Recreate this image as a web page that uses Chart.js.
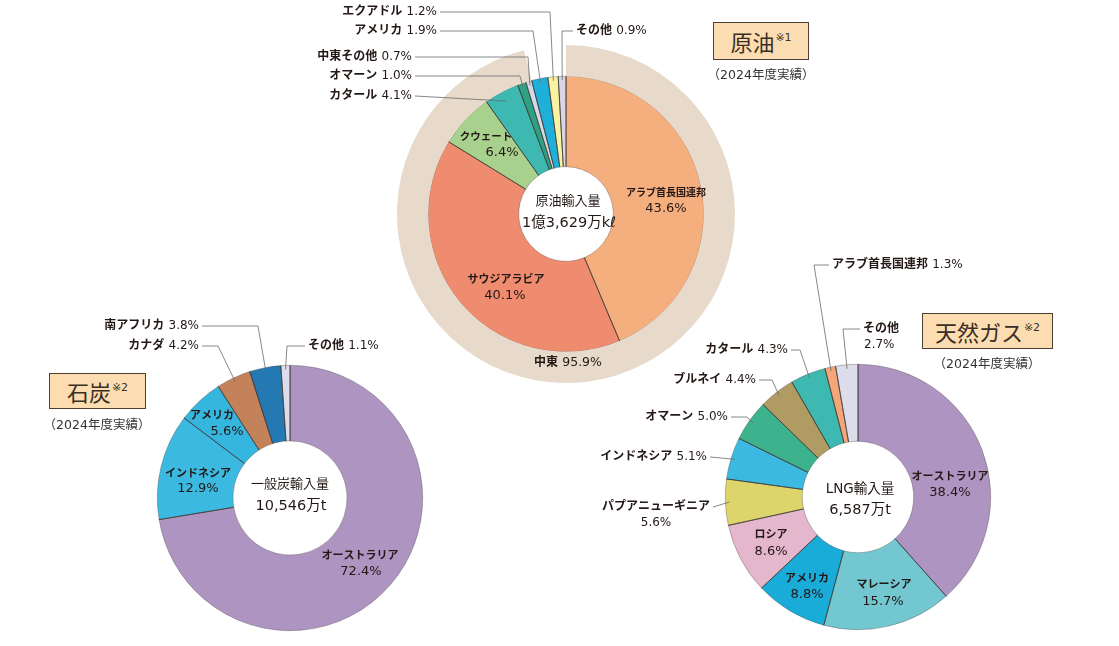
<!DOCTYPE html>
<html lang="ja">
<head>
<meta charset="utf-8">
<script src="https://cdn.jsdelivr.net/npm/chart.js@4.4.1/dist/chart.umd.min.js"></script>
<style>
  html, body { margin: 0; padding: 0; background: #fff; }
  body { width: 1119px; height: 646px; position: relative; overflow: hidden; font-family: "DejaVu Sans", "Noto Sans CJK JP", sans-serif; }
  canvas { position: absolute; }
  .tbox { position: absolute; box-sizing: border-box; background: #FCDDB1; border: 1.5px solid #4d3f33;
          font-family: "Noto Sans CJK JP", sans-serif; font-size: 22px; color: #3b2f25;
          display: flex; align-items: center; justify-content: center; line-height: 1; }
  .tbox sup { font-family: "DejaVu Sans", "Noto Sans CJK JP", sans-serif; font-size: 11px; position: relative; top: -4px; margin-left: 1px; }
  .yr { position: absolute; font-size: 12.5px; color: #333; transform: translate(-50%, -50%); white-space: nowrap; }
</style>
</head>
<body>
<canvas id="oilChart" width="540" height="400" style="left:300px;top:0px"></canvas>
<canvas id="coalChart" width="440" height="346" style="left:0px;top:300px"></canvas>
<canvas id="lngChart" width="539" height="406" style="left:580px;top:240px"></canvas>

<div class="tbox" style="left:713px;top:22px;width:96px;height:38px">原油<sup>※1</sup></div>
<div class="yr" style="left:761px;top:73px">（2024年度実績）</div>
<div class="tbox" style="left:49px;top:373px;width:97px;height:36px">石炭<sup>※2</sup></div>
<div class="yr" style="left:97px;top:423px">（2024年度実績）</div>
<div class="tbox" style="left:922px;top:313px;width:131px;height:36px">天然ガス<sup>※2</sup></div>
<div class="yr" style="left:987px;top:362px">（2024年度実績）</div>

<script>
// ---- data (shares in %) ----
const oilLabels = ["アラブ首長国連邦", "サウジアラビア", "クウェート", "カタール", "オマーン", "中東その他", "アメリカ", "エクアドル", "その他"];
const oilShares = [43.6, 40.1, 6.4, 4.1, 1.0, 0.7, 1.9, 1.2, 0.9];
const oilRegionLabels = ["中東", "中東以外"];
const oilRegionShares = [95.9, 4.0];
const oilCenter = ["原油輸入量", "1億3,629万kℓ"];

const coalLabels = ["オーストラリア", "インドネシア", "アメリカ", "カナダ", "南アフリカ", "その他"];
const coalShares = [72.4, 12.9, 5.6, 4.2, 3.8, 1.1];
const coalCenter = ["一般炭輸入量", "10,546万t"];

const lngLabels = ["オーストラリア", "マレーシア", "アメリカ", "ロシア", "パプアニューギニア", "インドネシア", "オマーン", "ブルネイ", "カタール", "アラブ首長国連邦", "その他"];
const lngShares = [38.4, 15.7, 8.8, 8.6, 5.6, 5.1, 5.0, 4.4, 4.3, 1.3, 2.7];
const lngCenter = ["LNG輸入量", "6,587万t"];

// ---- colours ----
const oilColors = ["#F5AF7E", "#EF8C6F", "#A9D18E", "#3DB9B1", "#2EA183", "#D3D9E6", "#1EB0D9", "#F8F2A2", "#D8D6E6"];
const oilRegionColors = ["#E7DACA", "rgba(0,0,0,0)"];
const coalColors = ["#AD94C1", "#3CB9E0", "#35B6DE", "#C4825A", "#2479B2", "#DCDCEA"];
const lngColors = ["#AD94C1", "#72C7D1", "#1AACD8", "#E4B7CC", "#DDD46B", "#3CB9E0", "#3DB38D", "#B09B62", "#3DB9B1", "#F4A679", "#DCDCEA"];
const EDGE = "rgba(60,55,50,0.55)";

const FONT = '"DejaVu Sans", "Noto Sans CJK JP", sans-serif';
const TXT = "#231815";
const pct = v => v.toFixed(1) + "%";

function drawRich(ctx, parts, x, y, align) {
  let total = 0;
  parts.forEach(p => { ctx.font = p[1]; total += ctx.measureText(p[0]).width; });
  let sx = align === "right" ? x - total : align === "center" ? x - total / 2 : x;
  const left = sx;
  ctx.textAlign = "left";
  parts.forEach(p => { ctx.font = p[1]; ctx.fillText(p[0], sx, y); sx += ctx.measureText(p[0]).width; });
  return { left: left, right: left + total };
}

// labels, leader lines, separators and centre text
const sliceLabels = {
  id: "sliceLabels",
  afterDatasetsDraw(chart, args, opts) {
    const ctx = chart.ctx;
    const arcs = chart.getDatasetMeta(opts.main).data;
    const names = chart.data.datasets[opts.main].names;
    const vals = chart.data.datasets[opts.main].data;
    const cx = arcs[0].x, cy = arcs[0].y;
    ctx.save();
    ctx.textBaseline = "middle";

    // slice separators
    ctx.strokeStyle = "#3b3330";
    ctx.lineWidth = 0.8;
    arcs.forEach(a => {
      const p = a.getProps(["startAngle", "innerRadius", "outerRadius"], true);
      ctx.beginPath();
      ctx.moveTo(cx + Math.cos(p.startAngle) * p.innerRadius, cy + Math.sin(p.startAngle) * p.innerRadius);
      ctx.lineTo(cx + Math.cos(p.startAngle) * p.outerRadius, cy + Math.sin(p.startAngle) * p.outerRadius);
      ctx.stroke();
    });

    ctx.fillStyle = TXT;
    // labels inside slices
    (opts.inside || []).forEach(s => {
      const ds = s.ds === undefined ? opts.main : s.ds;
      const name = chart.data.datasets[ds].names[s.i];
      const v = chart.data.datasets[ds].data[s.i];
      if (s.oneLine) {
        drawRich(ctx, [[name + " ", "bold 12px " + FONT], [pct(v), "12.5px " + FONT]], cx + s.dx, cy + s.dy, "center");
      } else {
        drawRich(ctx, [[name, "bold " + (s.fs || 11) + "px " + FONT]], cx + s.dx, cy + s.dy, "center");
        drawRich(ctx, [[pct(v), "13px " + FONT]], cx + s.vx, cy + s.vy, "center");
      }
    });

    // labels outside with leader lines
    (opts.outside || []).forEach(s => {
      const a = arcs[s.i].getProps(["startAngle", "endAngle", "outerRadius"], true);
      const x = cx + s.dx, y = cy + s.dy;
      let box;
      ctx.fillStyle = TXT;
      if (s.split) {
        box = drawRich(ctx, [[names[s.i], "bold 12px " + FONT]], x, y, s.align);
        drawRich(ctx, [[pct(vals[s.i]), "12px " + FONT]], s.align === "left" ? x + 1 : (box.left + box.right) / 2, y + 16, s.align === "left" ? "left" : "center");
      } else {
        box = drawRich(ctx, [[names[s.i] + " ", "bold 12px " + FONT], [pct(vals[s.i]), "12px " + FONT]], x, y, s.align);
      }
      const mid = (a.startAngle + a.endAngle) / 2;
      const r = a.outerRadius - (s.inset || 4);
      const sx = s.align === "left" ? box.left - 3 : box.right + 3;
      ctx.strokeStyle = "#6a6a6a";
      ctx.lineWidth = 0.8;
      ctx.beginPath();
      ctx.moveTo(sx, y);
      if (s.ex !== undefined) ctx.lineTo(cx + s.ex, y);
      ctx.lineTo(cx + Math.cos(mid) * r, cy + Math.sin(mid) * r);
      ctx.stroke();
    });

    // centre text
    ctx.fillStyle = TXT;
    (opts.center || []).forEach(c => {
      drawRich(ctx, [[c.t, c.f + " " + FONT]], cx + c.dx, cy + c.dy, "center");
    });
    ctx.restore();
  }
};

function baseOptions(pad, cutout, labelOpts) {
  return {
    responsive: false,
    animation: false,
    events: [],
    cutout: cutout,
    layout: { padding: pad },
    plugins: { legend: { display: false }, tooltip: { enabled: false }, sliceLabels: labelOpts }
  };
}

// ---- 原油 ----
new Chart(document.getElementById("oilChart"), {
  type: "doughnut",
  data: {
    labels: oilLabels,
    datasets: [
      { names: oilRegionLabels, data: oilRegionShares, backgroundColor: oilRegionColors, borderWidth: 0, weight: 31 },
      { names: oilLabels, data: oilShares, backgroundColor: oilColors, borderColor: EDGE, borderWidth: 0.6, weight: 90 }
    ]
  },
  options: baseOptions({ left: 97, top: 45, right: 105, bottom: 17 }, "28%", {
    main: 1,
    inside: [
      { i: 0, dx: 100, dy: -21, vx: 100, vy: -5, fs: 10 },
      { i: 1, dx: -60, dy: 66, vx: -61, vy: 82 },
      { i: 2, dx: -80, dy: -77, vx: -64, vy: -61, fs: 10.5 },
      { ds: 0, i: 0, dx: 2, dy: 149, oneLine: true }
    ],
    outside: [
      { i: 7, dx: -129, dy: -202, align: "right", ex: -16 },
      { i: 6, dx: -129, dy: -183, align: "right", ex: -33 },
      { i: 8, dx: 10, dy: -183, align: "left", ex: -4 },
      { i: 5, dx: -154, dy: -157, align: "right", ex: -38 },
      { i: 4, dx: -154, dy: -138, align: "right", ex: -46 },
      { i: 3, dx: -154, dy: -118, align: "right", inset: 10 }
    ],
    center: [
      { t: oilCenter[0], f: "13px", dx: 2, dy: -12 },
      { t: oilCenter[1], f: "14.5px", dx: 3, dy: 9 }
    ]
  }),
  plugins: [sliceLabels]
});

// ---- 石炭 ----
new Chart(document.getElementById("coalChart"), {
  type: "doughnut",
  data: {
    labels: coalLabels,
    datasets: [{ names: coalLabels, data: coalShares, backgroundColor: coalColors, borderColor: EDGE, borderWidth: 0.6 }]
  },
  options: baseOptions({ left: 157, top: 65, right: 17, bottom: 15 }, "43%", {
    main: 0,
    inside: [
      { i: 0, dx: 70, dy: 58, vx: 71, vy: 74 },
      { i: 1, dx: -92, dy: -24, vx: -92, vy: -9 },
      { i: 2, dx: -78, dy: -82, vx: -63, vy: -66 }
    ],
    outside: [
      { i: 4, dx: -91, dy: -172, align: "right", ex: -32 },
      { i: 3, dx: -91, dy: -152, align: "right", ex: -72 },
      { i: 5, dx: 18, dy: -152, align: "left", ex: -3 }
    ],
    center: [
      { t: coalCenter[0], f: "13px", dx: 0, dy: -13 },
      { t: coalCenter[1], f: "14.5px", dx: 1, dy: 8 }
    ]
  }),
  plugins: [sliceLabels]
});

// ---- 天然ガス ----
new Chart(document.getElementById("lngChart"), {
  type: "doughnut",
  data: {
    labels: lngLabels,
    datasets: [{ names: lngLabels, data: lngShares, backgroundColor: lngColors, borderColor: EDGE, borderWidth: 0.6 }]
  },
  options: baseOptions({ left: 145, top: 124, right: 128, bottom: 16 }, "42%", {
    main: 0,
    inside: [
      { i: 0, dx: 92, dy: -20, vx: 92, vy: -4 },
      { i: 1, dx: 26, dy: 88, vx: 25, vy: 105 },
      { i: 2, dx: -51, dy: 82, vx: -51, vy: 98 },
      { i: 3, dx: -87, dy: 38, vx: -87, vy: 55 }
    ],
    outside: [
      { i: 4, dx: -202, dy: 10, align: "center", split: true },
      { i: 5, dx: -151, dy: -40, align: "right" },
      { i: 6, dx: -130, dy: -80, align: "right", ex: -111 },
      { i: 7, dx: -102, dy: -117, align: "right", ex: -86 },
      { i: 8, dx: -70, dy: -147, align: "right", ex: -58 },
      { i: 9, dx: -26, dy: -232, align: "left", ex: -44 },
      { i: 10, dx: 5, dy: -168, align: "left", ex: -15, split: true }
    ],
    center: [
      { t: lngCenter[0], f: "13.5px", dx: 2, dy: -8 },
      { t: lngCenter[1], f: "14.5px", dx: 2, dy: 13 }
    ]
  }),
  plugins: [sliceLabels]
});
</script>
</body>
</html>
